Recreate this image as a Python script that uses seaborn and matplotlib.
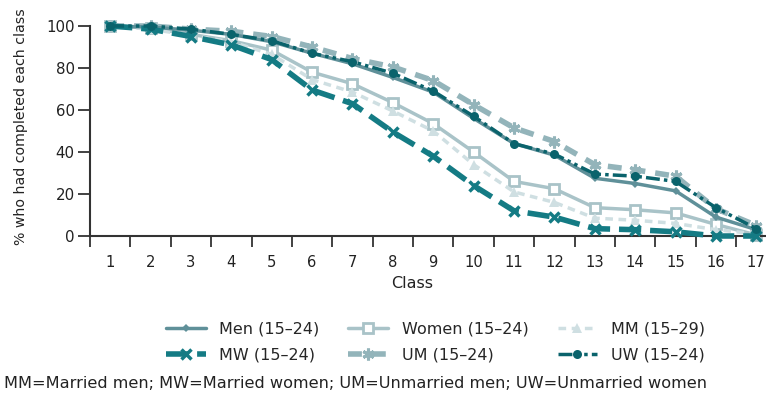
import numpy as np
import pandas as pd
import matplotlib
matplotlib.use("Agg")
import matplotlib.pyplot as plt
import seaborn as sns

# data
classes = list(range(1, 18))
men = [100, 99.5, 98, 96, 92.5, 87, 82, 75.5, 68.5, 56, 44, 38.5, 27.5, 25, 21.5, 9, 3]
women = [100, 99, 96, 93, 88.5, 78, 72.5, 63.5, 53.5, 40, 26, 22.5, 13.5, 12.5, 11, 5.5, 0.5]
mm = [100, 98.5, 95.5, 92.5, 86.5, 74.5, 68.5, 59.5, 50, 34, 21, 16, 8.5, 7.5, 6, 3, 1]
mw = [100, 98.5, 95, 91, 84, 69.5, 63, 49.5, 38, 24, 12, 9, 3.5, 3, 2, 0, 0]
um = [100, 100, 98.5, 97.5, 95, 90, 84.5, 80.5, 74, 62.5, 51.5, 45, 34, 31.5, 28.5, 13, 5]
uw = [100, 100, 98.5, 96, 93, 87, 83, 77.5, 69, 57, 44, 39, 29.5, 28.5, 26, 13.5, 3.5]

labels = ["Men (15–24)", "Women (15–24)", "MM (15–29)", "MW (15–24)", "UM (15–24)", "UW (15–24)"]
values = [men, women, mm, mw, um, uw]

styles = {
    "Men (15–24)": dict(color="#5f9099", lw=2.5, ls="-", marker="D", ms=4.5, mfc="#5f9099", mew=0, z=4),
    "Women (15–24)": dict(color="#a9c3c8", lw=2.5, ls="-", marker="s", ms=7, mfc="white", mew=2, z=2),
    "MM (15–29)": dict(color="#cfdfe2", lw=2.5, ls=(0, (2.2, 1.6)), marker="^", ms=6.5, mfc="#cfdfe2", mew=0, z=3),
    "MW (15–24)": dict(color="#147b84", lw=4, ls=(0, (4, 1.6)), marker="x", ms=7.5, mfc="#147b84", mew=2.5, z=5),
    "UM (15–24)": dict(color="#93b4ba", lw=4, ls=(0, (2.5, 1.8)), marker=(6, 2, 0), ms=8.5, mfc="#93b4ba", mew=2.2, z=1),
    "UW (15–24)": dict(color="#0a636c", lw=2.5, ls=(0, (4, 1.2, 1, 1.2, 1, 1.2)), marker="o", ms=6.5, mfc="#0a636c", mew=0, z=6),
}

df = pd.DataFrame({"Class": np.tile(classes, len(labels)),
                   "value": np.concatenate(values),
                   "group": np.repeat(labels, len(classes))})

sns.set_style("ticks")
plt.rcParams["font.family"] = ["DejaVu Sans"]
plt.rcParams["font.size"] = 11

fig = plt.figure(figsize=(7.66, 4.0), dpi=100)
ax = fig.add_axes([90 / 766, 0.41, (766 - 90) / 766, 0.546])

handles = {}
for lab in labels:
    s = styles[lab]
    sub = df[df["group"] == lab]
    sns.lineplot(data=sub, x="Class", y="value", ax=ax, color=s["color"], linewidth=s["lw"],
                 linestyle=s["ls"], marker=s["marker"], markersize=s["ms"],
                 markerfacecolor=s["mfc"], markeredgecolor=s["color"], markeredgewidth=s["mew"],
                 zorder=s["z"], clip_on=False, label=lab)
    handles[lab] = ax.lines[-1]

ax.set_xlim(0.5, 17.24)
ax.set_ylim(0, 104)
ax.set_yticks([0, 20, 40, 60, 80, 100])
ax.set_xticks(classes)
ax.set_xticks(np.arange(0.5, 17, 1), minor=True)
ax.tick_params(axis="x", which="major", length=0, pad=14, labelsize=10.6, colors="#222222")
ax.tick_params(axis="x", which="minor", length=8, width=1.3, color="#333333")
ax.tick_params(axis="y", length=9, width=1.3, pad=2, labelsize=10.8, color="#333333", labelcolor="#222222")
for sp in ["top", "right"]:
    ax.spines[sp].set_visible(False)
for sp in ["left", "bottom"]:
    ax.spines[sp].set_linewidth(1.5)
    ax.spines[sp].set_color("#333333")
ax.spines["left"].set_bounds(0, 100)
ax.set_xlabel("")
ax.set_ylabel("% who had completed each class", fontsize=10.2, labelpad=13, color="#222222")
fig.text(412 / 766, 1 - 283 / 400, "Class", ha="center", va="center", fontsize=11.5, color="#222222")

order = ["Men (15–24)", "MW (15–24)", "Women (15–24)", "UM (15–24)", "MM (15–29)", "UW (15–24)"]
ax.legend([handles[k] for k in order], order, ncol=3, frameon=False,
          loc="upper left", bbox_to_anchor=(158 / 766, 1 - 314 / 400),
          bbox_transform=fig.transFigure, borderpad=0, handlelength=2.5,
          handletextpad=0.85, columnspacing=1.8, labelspacing=0.65, fontsize=11.5)

fig.text(4 / 766, 1 - 384 / 400,
         "MM=Married men; MW=Married women; UM=Unmarried men; UW=Unmarried women",
         ha="left", va="center", fontsize=11.6, color="#222222")

fig.savefig("out.png", dpi=100)
